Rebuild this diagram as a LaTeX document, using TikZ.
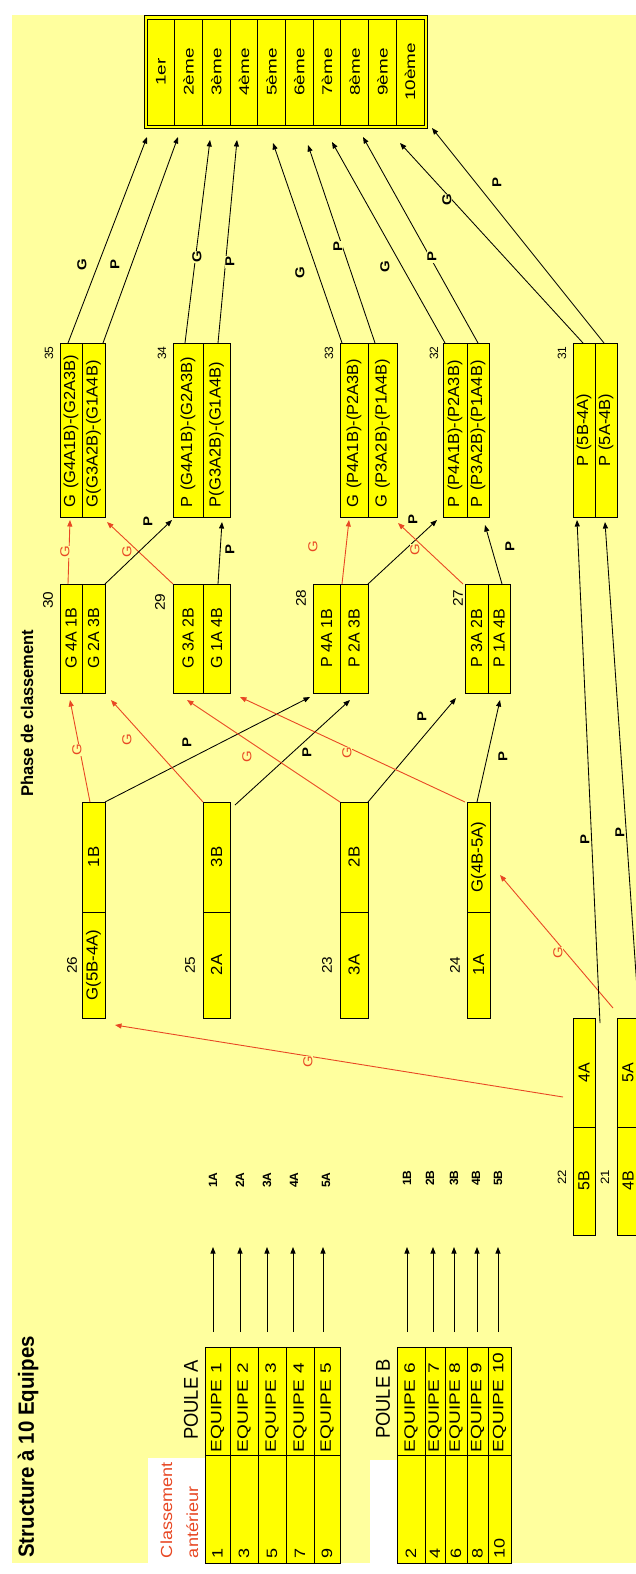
\documentclass[tikz,border=0pt]{standalone}
\usepackage{fontspec}
\setmainfont{Liberation Sans}
\usetikzlibrary{arrows.meta,calc}
\definecolor{bgy}{RGB}{255,255,158}
\definecolor{boxy}{RGB}{255,255,0}
\definecolor{gred}{RGB}{232,72,36}
\newcommand{\sx}[2]{\scalebox{#1}[1]{#2}}
\tikzset{
  cellst/.style={draw, fill=boxy, rotate=90, inner sep=0pt, outer sep=0pt, line width=1pt, font=\fontsize{16}{18}\selectfont},
  rankst/.style={cellst, minimum width=106, minimum height=27.7, font=\fontsize{14}{16}\selectfont},
  bigst/.style={cellst, minimum width=174, text width=154, align=left},
  rdst/.style={cellst, minimum width=109},
  pcell/.style={cellst, minimum width=108, font=\fontsize{15}{17}\selectfont},
  txt/.style={rotate=90, inner sep=0pt, outer sep=0pt},
  numst/.style={txt, font=\fontsize{14}{16}\selectfont},
  numsm/.style={txt, font=\fontsize{12}{14}\selectfont},
  lblst/.style={txt, font=\bfseries\fontsize{12}{14}\selectfont},
  glab/.style={rotate=90, inner sep=0.6pt, fill=bgy, text=gred, font=\fontsize{13}{15}\selectfont},
  plab/.style={rotate=90, inner sep=0.6pt, fill=bgy, font=\bfseries\fontsize{13}{15}\selectfont},
  garr/.style={draw=gred, line width=0.9pt, -{Triangle[length=6.5pt,width=5pt]}},
  parr/.style={draw=black, line width=0.85pt, -{Triangle[length=6.5pt,width=5pt]}},
}
\begin{document}
\begin{tikzpicture}[x=1pt,y=-1pt]
\useasboundingbox (0,0) rectangle (636,1574);
\clip (0,0) rectangle (636,1574);
\fill[white] (0,0) rectangle (636,1574);
\fill[bgy] (12,15) rectangle (636,1563);
\fill[white] (148,1458) rectangle (205,1563);
\fill[white] (370,1460) rectangle (397,1563);

% titles
\node[txt, font=\bfseries\fontsize{22}{26}\selectfont] (title) at (28,1447) {\sx{0.93}{Structure à 10 Equipes}};
\node[txt, font=\bfseries\fontsize{17}{20}\selectfont] (phase) at (27,713) {\sx{0.97}{Phase de classement}};
\node[txt, font=\fontsize{20}{24}\selectfont] (pouleA) at (191,1400) {\sx{0.92}{POULE A}};
\node[txt, font=\fontsize{20}{24}\selectfont] (pouleB) at (383,1399) {\sx{0.92}{POULE B}};
\node[txt, anchor=base west, text=gred, font=\fontsize{16}{18}\selectfont] (cla) at (172,1558) {\sx{1.13}{Classement}};
\node[txt, anchor=base west, text=gred, font=\fontsize{16}{18}\selectfont] (clb) at (198,1558) {\sx{1.13}{antérieur}};

% ranking table
\draw[fill=boxy, line width=1pt] (144,15) rectangle (427,128);
\foreach \k/\tx in {1/1er,2/2ème,3/3ème,4/4ème,5/5ème,6/6ème,7/7ème,8/8ème,9/9ème,10/10ème}
  \node[rankst] (r\k) at ({147+27.7*(\k-0.5)},72) {\sx{1.35}{\tx}};

% round 2 boxes
\node[bigst, minimum height=22] (b35a) at (71,430) {\sx{1.03}{G (G4A1B)-(G2A3B)}};
\node[bigst, minimum height=23] (b35b) at (93.5,430) {\sx{1.03}{G(G3A2B)-(G1A4B)}};
\node[bigst, minimum height=30] (b34a) at (188,430) {\sx{1.03}{P (G4A1B)-(G2A3B)}};
\node[bigst, minimum height=27] (b34b) at (216.5,430) {\sx{1.03}{P(G3A2B)-(G1A4B)}};
\node[bigst, minimum height=28] (b33a) at (354,430) {\sx{1.03}{G (P4A1B)-(P2A3B)}};
\node[bigst, minimum height=29] (b33b) at (382.5,430) {\sx{1.03}{G (P3A2B)-(P1A4B)}};
\node[bigst, minimum height=24] (b32a) at (455,430) {\sx{1.03}{P (P4A1B)-(P2A3B)}};
\node[bigst, minimum height=22] (b32b) at (478,430) {\sx{1.03}{P (P3A2B)-(P1A4B)}};
\node[cellst, minimum width=174, minimum height=22] (b31a) at (584,430) {\sx{1.03}{P (5B-4A)}};
\node[cellst, minimum width=174, minimum height=22] (b31b) at (606,430) {\sx{1.03}{P (5A-4B)}};

% round 1 boxes
\node[rdst, minimum height=22] (b30a) at (71,638.5) {G 4A 1B};
\node[rdst, minimum height=23] (b30b) at (93.5,638.5) {G 2A 3B};
\node[rdst, minimum height=30] (b29a) at (188,638.5) {G 3A 2B};
\node[rdst, minimum height=27] (b29b) at (216.5,638.5) {G 1A 4B};
\node[rdst, minimum height=27] (b28a) at (326.5,638.5) {P 4A 1B};
\node[rdst, minimum height=28] (b28b) at (354,638.5) {P 2A 3B};
\node[rdst, minimum height=23] (b27a) at (476.5,638.5) {P 3A 2B};
\node[rdst, minimum height=22] (b27b) at (499,638.5) {P 1A 4B};

% round 0 boxes
\node[cellst, minimum width=110, minimum height=23] (b26t) at (93.5,857) {\sx{1.05}{1B}};
\node[cellst, minimum width=106, minimum height=23] (b26b) at (93.5,965) {\sx{1.05}{G(5B-4A)}};
\node[cellst, minimum width=110, minimum height=27] (b25t) at (216.5,857) {\sx{1.05}{3B}};
\node[cellst, minimum width=106, minimum height=27] (b25b) at (216.5,965) {\sx{1.05}{2A}};
\node[cellst, minimum width=110, minimum height=28] (b23t) at (354,857) {\sx{1.05}{2B}};
\node[cellst, minimum width=106, minimum height=28] (b23b) at (354,965) {\sx{1.05}{3A}};
\node[cellst, minimum width=110, minimum height=23] (b24t) at (478.5,857) {\sx{1.05}{G(4B-5A)}};
\node[cellst, minimum width=106, minimum height=23] (b24b) at (478.5,965) {\sx{1.05}{1A}};

% bottom boxes
\node[cellst, minimum width=109, minimum height=22] (b22t) at (584,1072.5) {4A};
\node[cellst, minimum width=108, minimum height=22] (b22b) at (584,1181) {5B};
\node[cellst, minimum width=109, minimum height=22] (b21t) at (628,1072.5) {5A};
\node[cellst, minimum width=108, minimum height=22] (b21b) at (628,1181) {4B};

% box numbers
\node[numsm] (n35) at (49,353) {35};
\node[numsm] (n34) at (162,353) {34};
\node[numsm] (n33) at (329,353) {33};
\node[numsm] (n32) at (434,353) {32};
\node[numsm] (n31) at (562,353) {31};
\node[numst] (n30) at (48,600) {\sx{1.1}{30}};
\node[numst] (n29) at (160,602) {\sx{1.1}{29}};
\node[numst] (n28) at (301,598) {\sx{1.1}{28}};
\node[numst] (n27) at (458,598) {\sx{1.1}{27}};
\node[numst] (n26) at (72,965) {\sx{1.1}{26}};
\node[numst] (n25) at (190,965) {\sx{1.1}{25}};
\node[numst] (n23) at (327,965) {\sx{1.1}{23}};
\node[numst] (n24) at (455,965) {\sx{1.1}{24}};
\node[numsm] (n22) at (562,1177) {\sx{1.1}{22}};
\node[numsm] (n21) at (605,1177) {\sx{1.1}{21}};

% pools
\foreach \k/\c/\w/\n/\rk in {1/217.5/25/1/1, 2/244/28/2/3, 3/272/28/3/5, 4/300/28/4/7, 5/327/26/5/9} {
  \node[pcell, minimum height=\w, text width=102, align=left] (pa\k) at (\c,1401) {\sx{1.27}{EQUIPE \n}};
  \node[pcell, minimum height=\w, text width=98, align=left] (ra\k) at (\c,1509) {\sx{1.2}{\rk}};
}
\foreach \k/\c/\w/\n/\rk in {1/411/28/6/2, 2/435/20/7/4, 3/456/22/8/6, 4/477.5/21/9/8, 5/499.5/23/10/10} {
  \node[pcell, minimum height=\w, text width=102, align=left] (pb\k) at (\c,1401) {\sx{1.27}{EQUIPE \n}};
  \node[pcell, minimum height=\w, text width=98, align=left] (rb\k) at (\c,1509) {\sx{1.2}{\rk}};
}
\foreach \k/\c in {1/213, 2/240, 3/267, 4/294, 5/326}
  \node[lblst] (lA\k) at (\c,1180) {\k A};
\foreach \k/\c in {1/407, 2/430, 3/454, 4/476, 5/498}
  \node[lblst] (lB\k) at (\c,1178) {\k B};
\foreach \k/\dx/\hx in {1/-4.5/0, 2/-4/0, 3/-5/0, 4/-7/-1, 5/-4/-3}
  \draw[parr] ($(pa\k.east)+(\dx,-15)$) -- ($(lA\k.center)+(\hx,67)$);
\foreach \k/\dx/\hx in {1/-4/0, 2/-2/3, 3/-2/0, 4/-0.5/1, 5/-1.5/0}
  \draw[parr] ($(pb\k.east)+(\dx,-15)$) -- ($(lB\k.center)+(\hx,69)$);

% arrows to the ranking
\draw[parr] ($(b35a.east)+(-3,0)$) -- ($(r1.west)+(-13.85,12)$);
\draw[parr] ($(b35b.east)+(9.5,0)$) -- ($(r2.west)+(-10.55,12)$);
\draw[parr] ($(b34a.east)+(-3,0)$) -- ($(r3.west)+(-6.25,15)$);
\draw[parr] ($(b34b.east)+(1.5,0)$) -- ($(r4.west)+(-6.95,15)$);
\draw[parr] ($(b33a.east)+(-12,0)$) -- ($(r5.west)+(1.35,18)$);
\draw[parr] ($(b33b.east)+(-7.5,0)$) -- ($(r6.west)+(8.65,20)$);
\draw[parr] ($(b32a.east)+(-10,0)$) -- ($(r7.west)+(4.95,17)$);
\draw[parr] ($(b32b.east)+(0,0)$) -- ($(r8.west)+(8.25,12)$);
\draw[parr] ($(b31a.east)+(-1,0)$) -- ($(r9.west)+(17.55,18)$);
\draw[parr] ($(b31b.east)+(-2,0)$) -- ($(r10.west)+(21.85,3)$);

% round 1 -> round 2
\draw[garr] ($(b30a.east)+(-3,0)$) -- ($(b35a.west)+(-1,3)$);
\draw[garr] ($(b29a.east)+(-15,0)$) -- ($(b35b.west)+(13.5,5)$);
\draw[parr] ($(b30b.east)+(11.5,0)$) -- ($(b34a.west)+(-16,3)$);
\draw[parr] ($(b29b.east)+(1.5,0)$) -- ($(b34b.west)+(5.5,5)$);
\draw[garr] ($(b28a.east)+(15.5,0)$) -- ($(b33a.west)+(-5,3)$);
\draw[parr] ($(b28b.east)+(14,0)$) -- ($(b32a.west)+(-18,3)$);
\draw[garr] ($(b27a.east)+(-13.5,0)$) -- ($(b33b.west)+(15.5,6)$);
\draw[parr] ($(b27b.east)+(3,0)$) -- ($(b32b.west)+(7,8)$);

% round 0 -> round 1
\draw[garr] ($(b26t.east)+(-3.5,0)$) -- ($(b30a.west)+(-1,7)$);
\draw[parr] ($(b26t.east)+(11.5,0)$) -- ($(b28a.west)+(-16.5,4)$);
\draw[garr] ($(b25t.east)+(-13.5,0)$) -- ($(b30b.west)+(17.5,7)$);
\draw[parr] ($(b25t.east)+(18.5,3)$) -- ($(b28b.west)+(-4,7)$);
\draw[garr] ($(b23t.east)+(-14,0)$) -- ($(b29a.west)+(-1,7)$);
\draw[parr] ($(b23t.east)+(14,0)$) -- ($(b27a.west)+(-20.5,5)$);
\draw[garr] ($(b24t.east)+(-13.5,0)$) -- ($(b29b.west)+(23.5,4)$);
\draw[parr] ($(b24t.east)+(-1.5,0)$) -- ($(b27b.west)+(1,7)$);

% bottom boxes -> round 0 and box 31
\draw[garr] ($(b22t.north)+(-10,24.5)$) -- ($(b26b.south west)+(10,7)$);
\draw[garr] ($(b21t.east)+(-15,-10)$) -- ($(b24t.south)+(10,18)$);
\draw[parr] ($(b22t.east)+(16,5)$) -- ($(b31a.west)+(-7,3)$);
\draw[parr] ($(b21t.east)+(11,0)$) -- ($(b31b.west)+(-1,5)$);

% connector labels
\node[plab] (k1) at (82,265) {\sx{1.15}{G}};
\node[plab] (k2) at (115,265) {\sx{1.15}{P}};
\node[plab] (k3) at (197,257) {\sx{1.15}{G}};
\node[plab] (k4) at (230,262) {\sx{1.15}{P}};
\node[plab] (k5) at (300,273) {\sx{1.15}{G}};
\node[plab] (k6) at (338,247) {\sx{1.15}{P}};
\node[plab] (k7) at (385,267) {\sx{1.15}{G}};
\node[plab] (k8) at (432,257) {\sx{1.15}{P}};
\node[plab] (k9) at (447,200) {\sx{1.15}{G}};
\node[plab] (k10) at (497,183) {\sx{1.15}{P}};

\node[glab] (k11) at (65,552) {\sx{1.15}{G}};
\node[glab] (k12) at (127,552) {\sx{1.15}{G}};
\node[plab] (k13) at (148,522) {\sx{1.15}{P}};
\node[plab] (k14) at (230,550) {\sx{1.15}{P}};
\node[glab] (k15) at (313,547) {\sx{1.15}{G}};
\node[plab] (k16) at (413,520) {\sx{1.15}{P}};
\node[glab] (k17) at (415,550) {\sx{1.15}{G}};
\node[plab] (k18) at (510,547) {\sx{1.15}{P}};

\node[glab] (k19) at (77,750) {\sx{1.15}{G}};
\node[plab] (k20) at (187,743) {\sx{1.15}{P}};
\node[glab] (k21) at (127,740) {\sx{1.15}{G}};
\node[plab] (k22) at (307,753) {\sx{1.15}{P}};
\node[glab] (k23) at (247,757) {\sx{1.15}{G}};
\node[plab] (k24) at (422,717) {\sx{1.15}{P}};
\node[glab] (k25) at (347,753) {\sx{1.15}{G}};
\node[plab] (k26) at (503,757) {\sx{1.15}{P}};

\node[glab] (k27) at (308,1062) {\sx{1.15}{G}};
\node[glab] (k28) at (558,953) {\sx{1.15}{G}};
\node[plab] (k29) at (585,840) {\sx{1.15}{P}};
\node[plab] (k30) at (620,833) {\sx{1.15}{P}};
\end{tikzpicture}
\end{document}
